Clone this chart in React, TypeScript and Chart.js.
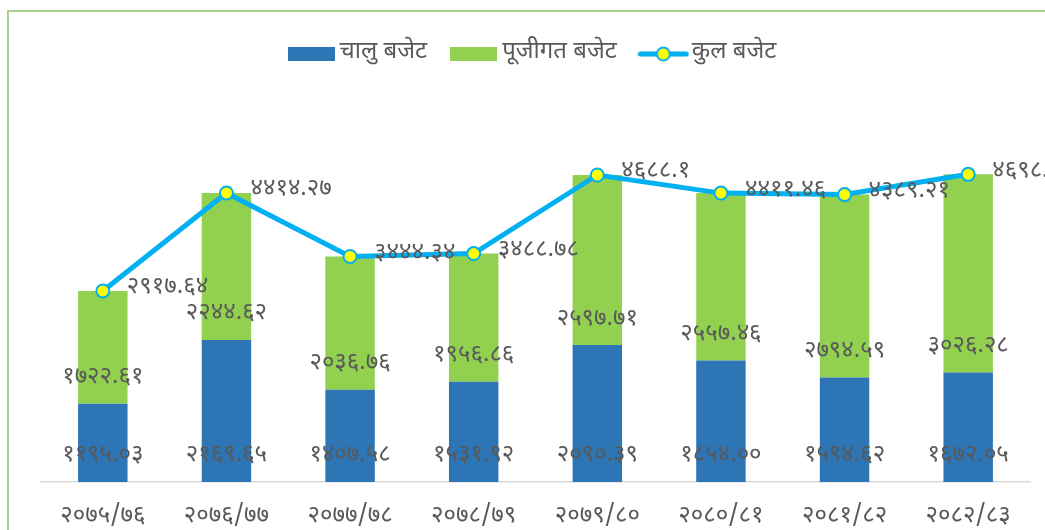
import React, { useEffect, useRef } from "react";
import { Chart, registerables } from "chart.js";

Chart.register(...registerables);

const categories = ["२०७५/७६", "२०७६/७७", "२०७७/७८", "२०७८/७९", "२०७९/८०", "२०८०/८१", "२०८१/८२", "२०८२/८३"];
const chaluBudget = [1195.03, 2169.65, 1407.58, 1531.92, 2090.39, 1854.0, 1594.62, 1672.05];
const pujigatBudget = [1722.61, 2244.62, 2036.76, 1956.86, 2597.71, 2557.46, 2794.59, 3026.28];
const kulBudget = [2917.64, 4414.27, 3444.34, 3488.78, 4688.1, 4411.46, 4389.21, 4698.33];
const seriesNames = ["चालु बजेट", "पूजीगत बजेट", "कुल बजेट"];

const BLUE = "#2e75b6";
const GREEN = "#92d050";
const LINE = "#00b0f0";
const MARKER = "#ffff00";
const TEXT = "#595959";
const FONT = "'Nirmala UI', Mangal, 'Noto Sans Devanagari', 'Lohit Devanagari', 'Noto Sans', sans-serif";
const FS = 24;

const toDeva = (s: string) => s.replace(/[0-9]/g, (d) => String.fromCharCode(0x0966 + Number(d)));

function makeBox(color: string) {
  const c = document.createElement("canvas");
  c.width = 47;
  c.height = 14;
  const ctx = c.getContext("2d")!;
  ctx.fillStyle = color;
  ctx.fillRect(0, 0, 47, 14);
  return c;
}

function makeLineMarker() {
  const c = document.createElement("canvas");
  c.width = 52;
  c.height = 18;
  const ctx = c.getContext("2d")!;
  ctx.strokeStyle = LINE;
  ctx.lineWidth = 5;
  ctx.lineCap = "round";
  ctx.beginPath();
  ctx.moveTo(3, 9);
  ctx.lineTo(49, 9);
  ctx.stroke();
  ctx.beginPath();
  ctx.arc(26, 9, 6.5, 0, Math.PI * 2);
  ctx.fillStyle = MARKER;
  ctx.fill();
  ctx.lineWidth = 2;
  ctx.stroke();
  return c;
}

const labelPlugin = {
  id: "valueLabels",
  afterDatasetsDraw(chart: any) {
    const ctx = chart.ctx;
    ctx.save();
    ctx.font = `${FS}px ${FONT}`;
    ctx.fillStyle = TEXT;
    ctx.textBaseline = "middle";
    chart.data.datasets.forEach((ds: any, di: number) => {
      const meta = chart.getDatasetMeta(di);
      meta.data.forEach((el: any, i: number) => {
        const v = ds.data[i];
        if (ds.type === "line") {
          ctx.textAlign = "left";
          ctx.fillText(toDeva(String(v)), el.x + 24, el.y - 2);
        } else {
          ctx.textAlign = "center";
          ctx.fillText(toDeva(v.toFixed(2)), el.x, el.base - 25);
        }
      });
    });
    ctx.restore();
  },
};

export default function App() {
  const ref = useRef<HTMLCanvasElement>(null);
  useEffect(() => {
    if (!ref.current) return;
    const styles = [makeBox(BLUE), makeBox(GREEN), makeLineMarker()];
    const chart = new Chart(ref.current, {
      type: "bar",
      data: {
        labels: categories,
        datasets: [
          {
            type: "bar",
            label: seriesNames[0],
            data: chaluBudget,
            backgroundColor: BLUE,
            stack: "budget",
            order: 1,
            barPercentage: 0.4,
            categoryPercentage: 1,
          },
          {
            type: "bar",
            label: seriesNames[1],
            data: pujigatBudget,
            backgroundColor: GREEN,
            stack: "budget",
            order: 1,
            barPercentage: 0.4,
            categoryPercentage: 1,
          },
          {
            type: "line",
            label: seriesNames[2],
            data: kulBudget,
            borderColor: LINE,
            borderWidth: 5,
            backgroundColor: MARKER,
            pointBackgroundColor: MARKER,
            pointBorderColor: LINE,
            pointBorderWidth: 2,
            pointRadius: 6.5,
            tension: 0,
            stack: "total",
            order: 0,
          } as any,
        ],
      },
      options: {
        responsive: false,
        animation: false,
        layout: { padding: { left: 41, right: 15, top: 12, bottom: 0 } },
        plugins: {
          tooltip: { enabled: false },
          legend: {
            position: "top",
            labels: {
              usePointStyle: true,
              pointStyleWidth: 33,
              padding: 30,
              color: TEXT,
              font: { size: FS, family: FONT },
              sort: (a: any, b: any) => a.datasetIndex - b.datasetIndex,
              generateLabels: (ch: any) =>
                ch.data.datasets.map((ds: any, i: number) => ({
                  text: ds.label,
                  datasetIndex: i,
                  pointStyle: styles[i],
                  fillStyle: "transparent",
                  strokeStyle: "transparent",
                  lineWidth: 0,
                  fontColor: TEXT,
                  hidden: false,
                })),
            },
          },
        },
        scales: {
          x: {
            stacked: true,
            grid: { display: false, drawTicks: false },
            border: { display: true, color: "#d9d9d9", width: 1.5 },
            ticks: { color: TEXT, font: { size: FS, family: FONT }, padding: 21, maxRotation: 0 },
            afterFit: (scale: any) => {
              scale.height = 48;
            },
          },
          y: {
            stacked: true,
            display: false,
            min: 0,
            max: 6200,
          },
        },
      },
      plugins: [labelPlugin],
    });
    return () => chart.destroy();
  }, []);

  return (
    <div style={{ position: "absolute", left: 0, top: 0, width: 1045, height: 530, overflow: "hidden", background: "#fff" }}>
      <div
        style={{
          position: "absolute",
          left: 7,
          top: 10,
          width: 1200,
          height: 700,
          borderTop: "2px solid #a9d18e",
          borderLeft: "2px solid #a9d18e",
        }}
      />
      <canvas ref={ref} width={1045} height={530} style={{ position: "absolute", left: 0, top: 0 }} />
    </div>
  );
}
